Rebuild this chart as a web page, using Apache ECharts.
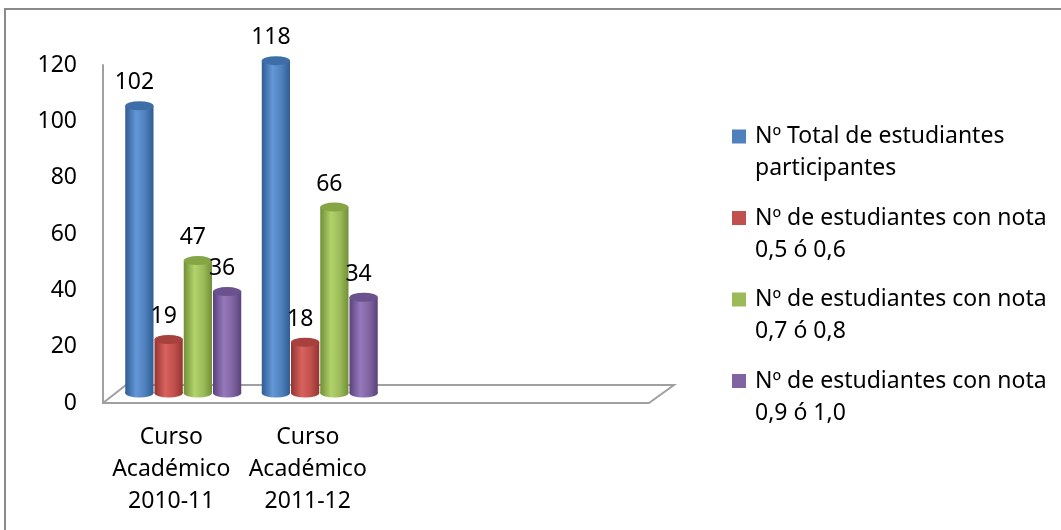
<!DOCTYPE html>
<html>
<head>
<meta charset="utf-8">
<script src="https://cdn.jsdelivr.net/npm/echarts@6/dist/echarts.min.js"></script>
<style>
html,body{margin:0;padding:0;background:#fff;}
#chart{width:1061px;height:530px;}
</style>
</head>
<body>
<div id="chart"></div>
<script>
// ---- data ----
const categories = ['Curso\nAcadémico\n2010-11', 'Curso\nAcadémico\n2011-12', '', ''];
const seriesNames = [
  'Nº Total de estudiantes\nparticipantes',
  'Nº de estudiantes con nota\n0,5 ó 0,6',
  'Nº de estudiantes con nota\n0,7 ó 0,8',
  'Nº de estudiantes con nota\n0,9 ó 1,0'
];
const totalParticipants = [102, 118, null, null];
const grade05_06 = [19, 18, null, null];
const grade07_08 = [47, 66, null, null];
const grade09_10 = [36, 34, null, null];
const yMin = 0, yMax = 120, yInterval = 20;

// ---- styles ----
const FONT = '"Noto Sans"';
const FS = 23;
const palettes = [
  {base:'#4F81BD', dark:'#2f5c92', light:'#6497d6', cap:'#3e6ea8'},
  {base:'#C0504D', dark:'#933431', light:'#d8625e', cap:'#a8403d'},
  {base:'#9BBB59', dark:'#718f36', light:'#b2d26c', cap:'#86a646'},
  {base:'#8064A2', dark:'#5a427b', light:'#9579bb', cap:'#6b518d'}
];
const AX = {left:103, top:65, width:546, bottom:530-403};   // front (axis) plane
const BAR_SHIFT = {x:12, y:-10};                             // bars sit mid-depth
const DEPTH = {x:23, y:-18};
const allValues = [totalParticipants, grade05_06, grade07_08, grade09_10];

function makeRender(sIdx){
  const p = palettes[sIdx];
  return function(params, api){
    const cat = api.value(0), v = api.value(1);
    const top = api.coord([cat, v]);
    const base = api.coord([cat, 0]);
    const band = api.size([1, 0])[0];
    const w = band * 0.857 / 4;
    const cx = top[0] + (sIdx - 1.5) * w;
    const rx = w / 2 - 0.5, ry = 4.5;
    const grad = new echarts.graphic.LinearGradient(0,0,1,0,[
      {offset:0, color:p.dark},{offset:0.38, color:p.light},
      {offset:0.7, color:p.base},{offset:1, color:p.dark}]);
    return {
      type:'group',
      children:[
        {type:'circle', x:cx, y:base[1], scaleY:ry/rx, shape:{cx:0, cy:0, r:rx}, style:{fill:grad}},
        {type:'rect', shape:{x:cx-rx, y:top[1], width:2*rx, height:base[1]-top[1]}, style:{fill:grad}},
        {type:'circle', x:cx, y:top[1], scaleY:ry/rx, shape:{cx:0, cy:0, r:rx}, style:{fill:p.cap}},
        {type:'text', x:cx-5, y:top[1]-23, style:{text:String(v), fill:'#000', font:FS+'px '+FONT, textAlign:'center', textVerticalAlign:'middle'}}
      ]
    };
  };
}

const series = allValues.map((vals, i) => ({
  type:'custom',
  name: seriesNames[i],
  xAxisIndex:1, yAxisIndex:1,
  itemStyle:{color:palettes[i].base},
  renderItem: makeRender(i),
  data: vals.map((v, k) => v == null ? null : [k, v]).filter(d => d),
  encode:{x:0, y:1},
  z: 3
}));

const chart = echarts.init(document.getElementById('chart'), null, {renderer:'canvas'});
const floorL = AX.left, floorR = AX.left + AX.width, floorY = 530 - AX.bottom;
chart.setOption({
  animation:false,
  backgroundColor:'#fff',
  textStyle:{fontFamily:FONT},
  grid:[
    {left:AX.left, top:AX.top, width:AX.width, bottom:AX.bottom, containLabel:false},
    {left:AX.left+BAR_SHIFT.x, top:AX.top+BAR_SHIFT.y, width:AX.width, bottom:AX.bottom-BAR_SHIFT.y, containLabel:false}
  ],
  xAxis:[
    {type:'category', gridIndex:0, data:categories,
     axisLine:{show:true, lineStyle:{color:'#a0a0a0', width:2}},
     axisTick:{show:false},
     axisLabel:{interval:0, fontSize:FS, lineHeight:32, color:'#000', margin:18, fontFamily:FONT}},
    {type:'category', gridIndex:1, data:categories, show:false}
  ],
  yAxis:[
    {type:'value', gridIndex:0, min:yMin, max:yMax, interval:yInterval,
     axisLine:{show:true, lineStyle:{color:'#a0a0a0', width:2}},
     axisTick:{show:false}, splitLine:{show:false},
     axisLabel:{fontSize:FS, color:'#000', margin:26, fontFamily:FONT}},
    {type:'value', gridIndex:1, min:yMin, max:yMax, interval:yInterval, show:false}
  ],
  legend:{
    orient:'vertical', left:732, top:88.5, padding:0,
    itemWidth:14, itemHeight:14, itemGap:-14.5, icon:'rect',
    selectedMode:false,
    formatter: name => ' \n' + name,
    textStyle:{fontSize:FS, lineHeight:32, color:'#000', fontFamily:FONT, padding:[0,0,0,4]},
    data:seriesNames
  },
  graphic:[
    {type:'rect', shape:{x:5, y:9, width:1200, height:700}, style:{fill:'none', stroke:'#8a8a8a', lineWidth:2}, z:-1},
    {type:'polyline', shape:{points:[[floorL, floorY],[floorL+DEPTH.x, floorY+DEPTH.y],[floorR+DEPTH.x+2, floorY+DEPTH.y],[floorR, floorY]]},
     style:{fill:'none', stroke:'#a0a0a0', lineWidth:2}, z:0}
  ],
  series: series
});
</script>
</body>
</html>
